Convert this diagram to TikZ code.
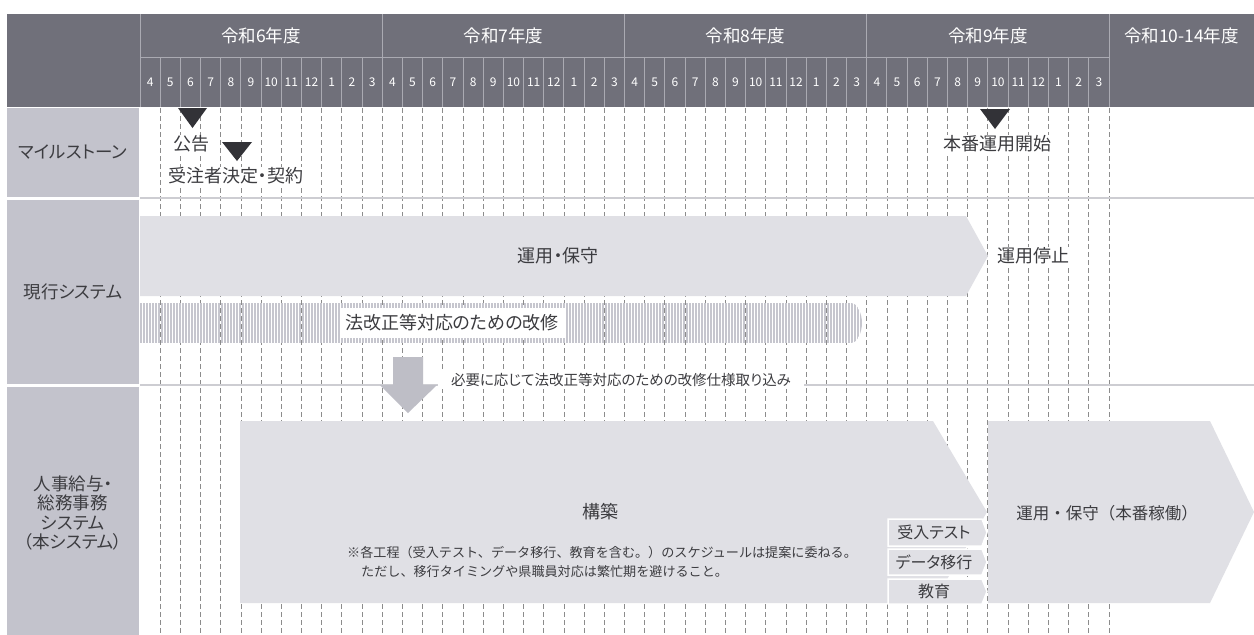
\documentclass[tikz,border=0pt]{standalone}
\usepackage{fontspec}
\setmainfont{Noto Sans CJK JP}[RawFeature=+palt]
\newfontfamily\fullfont{Noto Sans CJK JP}
\definecolor{hdrc}{RGB}{112,112,122}
\definecolor{labc}{RGB}{195,195,204}
\definecolor{arrc}{RGB}{224,224,229}
\definecolor{dnc}{RGB}{190,190,198}
\definecolor{stripc}{RGB}{198,198,206}
\definecolor{txtc}{RGB}{60,60,64}
\definecolor{gridc}{RGB}{140,140,140}
\definecolor{sepc}{RGB}{205,205,210}
\definecolor{hlc}{RGB}{170,170,178}
\definecolor{tric}{RGB}{50,50,55}
\begin{document}
\begin{tikzpicture}[x=1pt,y=-1pt,
  grid/.style={gridc,line width=0.8pt,dash pattern=on 5pt off 3pt},
  hline/.style={hlc,line width=1pt},
  sepline/.style={sepc,line width=2pt},
  yr/.style={text=white,font=\fontsize{17.5}{20}\selectfont,inner sep=0pt},
  mon/.style={text=white,font=\fontsize{12}{13}\selectfont,inner sep=0pt},
  lab/.style={text=txtc,font=\fontsize{17.5}{19.5}\selectfont,align=center,inner sep=0pt},
  mtxt/.style={text=txtc,fill=white,font=\fontsize{18}{20}\selectfont,inner sep=1pt},
  btxt/.style={text=txtc,font=\fontsize{18}{20}\selectfont,inner sep=0pt},
  note/.style={text=txtc,font=\fullfont\fontsize{13.1}{15}\selectfont,inner sep=0pt,anchor=west},
  small/.style={text=txtc,font=\fontsize{16}{18}\selectfont,inner sep=0pt},
  sbox/.style={fill=arrc,draw=white,line width=1.5pt}]
\def\mw{20.1875}
\useasboundingbox (0,0) rectangle (1254,635);
\fill[white] (0,0) rectangle (1254,635);
% grid
\foreach \i in {1,...,48} \draw[grid] ({140+\i*\mw},108) -- ({140+\i*\mw},635);
\draw[sepline] (140,198) -- (1254,198);
\draw[sepline] (140,385) -- (1254,385);
% header
\fill[hdrc] (7,14) rectangle (1254,107);
\draw[hline] (140,14) -- (140,107);
\foreach \k in {1,...,4} \draw[hline] ({140+12*\k*\mw},14) -- ({140+12*\k*\mw},107);
\draw[hline] (140,57) -- (1109,57);
\foreach \i in {1,...,47} \draw[hline] ({140+\i*\mw},57) -- ({140+\i*\mw},107);
\foreach \k/\yy in {0/6,1/7,2/8,3/9}
  \node[yr] (year\yy) at ({140+(12*\k+6)*\mw},36) {令和{\yy}年度};
\node[yr] (year10) at (1181.5,36) {令和10-14年度};
\foreach \k in {0,...,3}
  \foreach \m [count=\j from 0] in {4,5,6,7,8,9,10,11,12,1,2,3}
    \node[mon] (mon\k-\j) at ({140+(12*\k+\j+0.5)*\mw},82) {\m};
% label column
\fill[labc] (7,108) rectangle (139,197);
\fill[labc] (7,199.5) rectangle (139,384);
\fill[labc] (7,386.5) rectangle (139,635);
\node[lab] (lmile) at (73,152) {マイルストーン};
\node[lab] (lcur) at (73,292) {現行システム};
\node[lab] (lnew) at (73,513) {人事給与・\\総務事務\\システム\\（本システム）};
% milestones
\fill[tric] (178,108) -- (207,108) -- (192.5,128) -- cycle;
\node[mtxt] (koukoku) at (191,144) {公告};
\fill[tric] (222,142) -- (252,142) -- (237,161) -- cycle;
\node[mtxt] (keiyaku) at (235.5,176) {受注者決定・契約};
\fill[tric] (980,109) -- (1010,109) -- (995,129) -- cycle;
\node[mtxt] (kaishi) at (997,144) {本番運用開始};
% current system
\fill[arrc] (140,216) -- (966,216) -- (988,256) -- (966,296) -- (140,296) -- cycle;
\node[btxt] (unyo) at (558,256) {運用・保守};
\node[btxt,anchor=west,fill=white,inner sep=1pt] (teishi) at (996,256) {運用停止};
\begin{scope}
\clip (140,303) -- (851,303) .. controls (858,303) and (862,315) .. (862,323)
      .. controls (862,331) and (858,343) .. (851,343) -- (140,343) -- cycle;
\foreach \x in {141,144,...,862} \draw[stripc,line width=1.6pt] (\x,303) -- (\x,343);
\end{scope}
\node[btxt,fill=white,minimum width=225pt,minimum height=30pt] (law) at (452,323) {法改正等対応のための改修};
\fill[dnc] (393,357) -- (423,357) -- (423,385) -- (437,385) -- (408,413) -- (380,385) -- (393,385) -- cycle;
\node[text=txtc,fill=white,font=\fontsize{14.5}{16}\selectfont,inner xsep=13pt,inner ysep=2pt] (torikomi) at (621,380) {必要に応じて法改正等対応のための改修仕様取り込み};
% new system
\fill[arrc] (240,421) -- (933,421) -- (987,512) -- (933,603) -- (240,603) -- cycle;
\node[btxt] (kouchiku) at (600,512) {構築};
\node[note] (note1) at (347,553) {※各工程（受入テスト、データ移行、教育を含む。）のスケジュールは提案に委ねる。};
\node[note] (note2) at (361,572) {ただし、移行タイミングや県職員対応は繁忙期を避けること。};
\filldraw[sbox] (888,519) -- (982,519) -- (987,532.5) -- (982,546) -- (888,546) -- cycle;
\node[small] (ukeire) at (934,532.5) {受入テスト};
\filldraw[sbox] (888,549) -- (982,549) -- (987,562) -- (982,575) -- (888,575) -- cycle;
\node[small] (iko) at (934,562) {データ移行};
\filldraw[sbox] (888,579) -- (982,579) -- (987,591.5) -- (982,604) -- (888,604) -- cycle;
\node[small] (kyoiku) at (934,591.5) {教育};
\fill[arrc] (988,421) -- (1210,421) -- (1254,512) -- (1210,603) -- (988,603) -- cycle;
\node[btxt,font=\fullfont\fontsize{16.5}{20}\selectfont] (honban) at (1107,513) {運用・保守（本番稼働）};
\end{tikzpicture}
\end{document}
